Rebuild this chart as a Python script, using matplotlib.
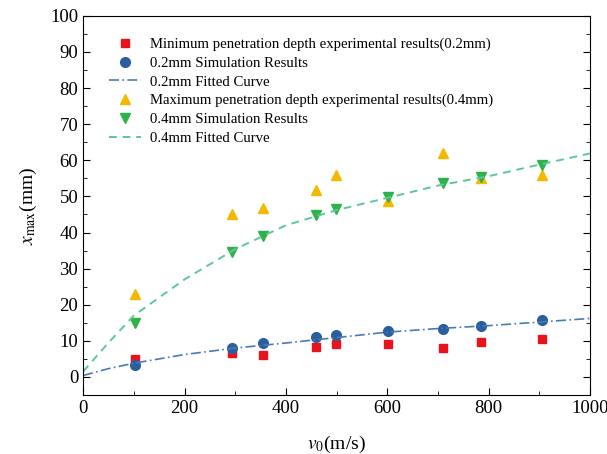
import matplotlib
matplotlib.use('Agg')
import matplotlib.pyplot as plt
from matplotlib.ticker import MultipleLocator

# data
v = [102, 293, 355, 460, 499, 601, 709, 785, 905]
min_exp_02 = [5.0, 6.6, 6.2, 8.2, 9.1, 9.1, 8.0, 9.8, 10.4]
sim_02 = [3.4, 8.0, 9.4, 11.0, 11.6, 12.8, 13.3, 14.2, 15.7]
max_exp_04 = [23.1, 45.2, 46.8, 51.9, 55.8, 48.7, 61.9, 55.2, 55.8]
sim_04 = [14.9, 34.7, 39.0, 44.8, 46.4, 49.8, 53.6, 55.4, 58.8]

fit_v = [0, 50, 100, 200, 300, 400, 500, 600, 700, 800, 900, 1000]
fit_02 = [0.4, 2.3, 3.8, 6.2, 8.0, 9.4, 10.9, 12.4, 13.4, 14.2, 15.2, 16.2]
fit_04 = [1.5, 9.5, 17.0, 27.0, 35.4, 42.0, 46.2, 49.6, 53.0, 55.6, 58.8, 61.9]

plt.rcParams['font.family'] = ['Liberation Serif', 'DejaVu Serif']
plt.rcParams['mathtext.fontset'] = 'stix'

fig = plt.figure(figsize=(6.07, 4.54), dpi=100)
ax = fig.add_axes([0.137, 0.130, 0.835, 0.835])

ax.plot(v, min_exp_02, 's', color='#e8141c', markersize=6, linestyle='none',
        label='Minimum penetration depth experimental results(0.2mm)')
ax.plot(v, sim_02, 'o', color='#2a5f9e', markersize=7, linestyle='none',
        label='0.2mm Simulation Results')
ax.plot(fit_v, fit_02, color='#4a7ab5', linestyle=(0, (6, 2, 1, 2)), linewidth=1.2,
        label='0.2mm Fitted Curve')
ax.plot(v, max_exp_04, '^', color='#f5b800', markersize=7, linestyle='none',
        label='Maximum penetration depth experimental results(0.4mm)')
ax.plot(v, sim_04, 'v', color='#2db34a', markersize=7, linestyle='none',
        label='0.4mm Simulation Results')
ax.plot(fit_v, fit_04, color='#5cc79e', linestyle=(0, (4, 3)), linewidth=1.4,
        label='0.4mm Fitted Curve')

ax.set_xlim(0, 1000)
ax.set_ylim(-5, 100)
ax.xaxis.set_major_locator(MultipleLocator(200))
ax.xaxis.set_minor_locator(MultipleLocator(100))
ax.yaxis.set_major_locator(MultipleLocator(10))
ax.yaxis.set_minor_locator(MultipleLocator(5))
ax.tick_params(which='both', direction='in', right=True, labelsize=13.5)
ax.tick_params(which='major', length=5)
ax.tick_params(which='minor', length=3)

ax.set_xlabel('$v_0$(m/s)', fontsize=14, labelpad=12)
ax.set_ylabel('$x_{\\max}$(mm)', fontsize=14, labelpad=8)

ax.legend(loc='upper left', bbox_to_anchor=(0.03, 0.97), frameon=False, fontsize=10.6,
          handlelength=2.2, labelspacing=0.37, handletextpad=0.6, borderaxespad=0.3)

fig.savefig('out.png', dpi=100)
